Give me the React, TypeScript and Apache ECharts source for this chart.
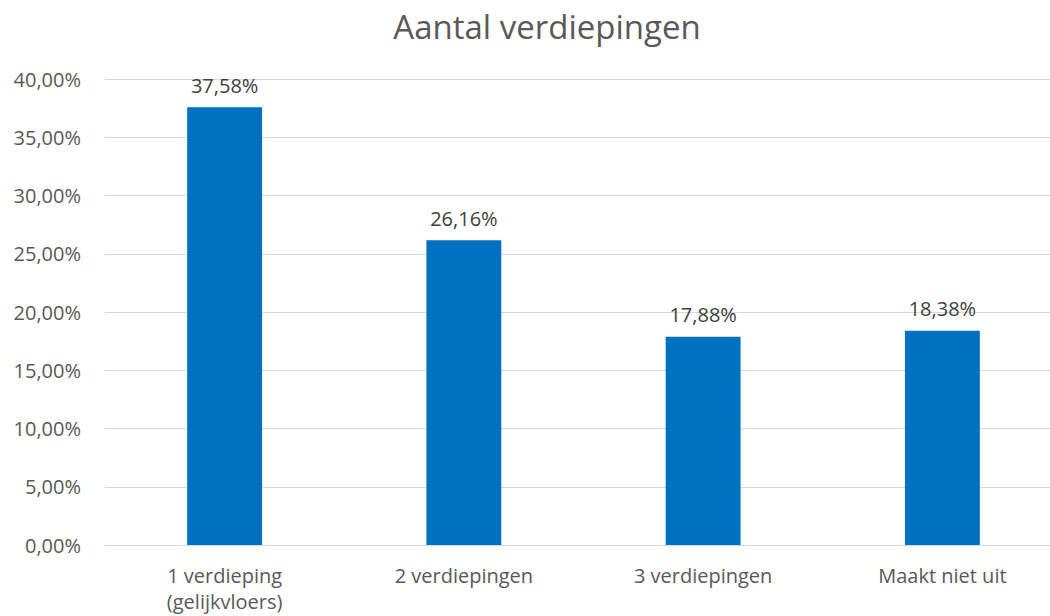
import React, { useEffect, useRef } from "react";
import * as echarts from "echarts";

const categories = ["1 verdieping\n(gelijkvloers)", "2 verdiepingen", "3 verdiepingen", "Maakt niet uit"];
const values = [37.58, 26.16, 17.88, 18.38];
const titleText = "Aantal verdiepingen";

const fmt = (v: number) => v.toFixed(2).replace(".", ",") + "%";

export default function App() {
  const ref = useRef<HTMLDivElement>(null);
  useEffect(() => {
    if (!ref.current) return;
    const chart = echarts.init(ref.current, null, { renderer: "svg" });
    const font = "'Open Sans', 'Noto Sans', sans-serif";
    chart.setOption({
      animation: false,
      backgroundColor: "#ffffff",
      title: {
        text: titleText,
        left: 542,
        textAlign: "center",
        top: 5,
        textStyle: { fontFamily: font, fontSize: 33, fontWeight: "normal", color: "#595959" },
      },
      grid: { left: 105, right: 0, top: 79, bottom: 71 },
      xAxis: {
        type: "category",
        data: categories,
        axisLine: { lineStyle: { color: "#d9d9d9", width: 1 } },
        axisTick: { show: false },
        axisLabel: { fontFamily: font, fontSize: 20, color: "#595959", margin: 17, lineHeight: 26 },
      },
      yAxis: {
        type: "value",
        min: 0,
        max: 40,
        interval: 5,
        axisLine: { show: false },
        axisTick: { show: false },
        splitLine: { lineStyle: { color: "#d9d9d9", width: 1 } },
        axisLabel: { fontFamily: font, fontSize: 20, color: "#595959", margin: 24, formatter: (v: number) => fmt(v) },
      },
      series: [
        {
          type: "bar",
          data: values,
          barWidth: "31.3%",
          itemStyle: { color: "#0070C0" },
          label: {
            show: true,
            position: "top",
            distance: 12,
            fontFamily: font,
            fontSize: 20,
            color: "#404040",
            formatter: (p: any) => fmt(p.value),
          },
        },
      ],
    });
    return () => chart.dispose();
  }, []);
  return <div ref={ref} style={{ position: "fixed", left: 0, top: 0, width: 1062, height: 616 }} />;
}
